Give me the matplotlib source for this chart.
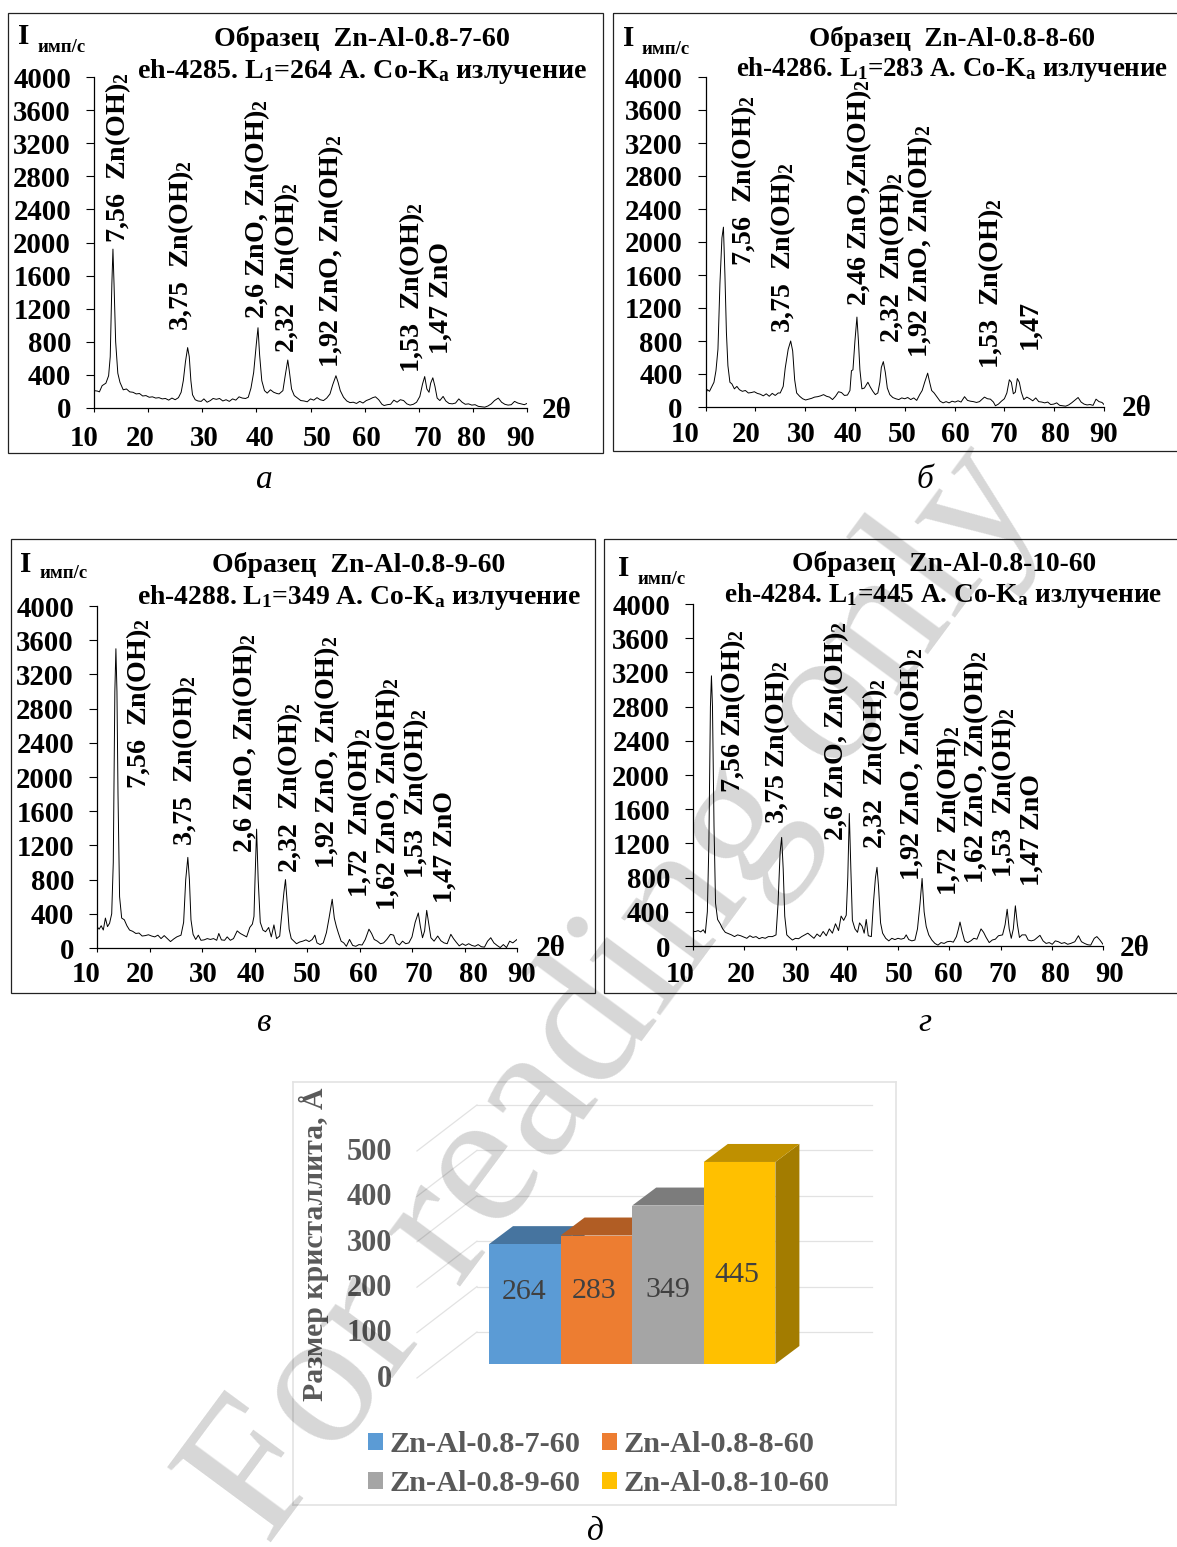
import numpy as np
import matplotlib
matplotlib.use("Agg")
import matplotlib.pyplot as plt
from matplotlib.patches import Polygon, Rectangle

plt.rcParams['font.family'] = ['Liberation Serif', 'DejaVu Serif']
plt.rcParams['font.weight'] = 'bold'
plt.rcParams['mathtext.fontset'] = 'custom'
plt.rcParams['mathtext.rm'] = 'Liberation Serif:bold'
plt.rcParams['mathtext.default'] = 'regular'

W, H = 1177, 1547

# (2theta, intensity)
spectrum_a = [(10,210),(10.6,205),(11,195),(11.5,270),(12.2,300),(12.7,390),(13,620),(13.3,1500),(13.5,1920),(13.7,1500),(14,800),(14.4,420),(14.8,310),(15.4,220),(16,230),(16.6,195),(17.2,190),(17.8,170),(18.4,175),(19,145),(19.6,150),(20.2,130),(20.8,135),(21.4,120),(22,125),(22.6,110),(23.2,115),(23.8,95),(24.4,120),(25,100),(25.6,125),(26.1,190),(26.5,330),(26.9,560),(27.3,730),(27.6,620),(27.9,330),(28.2,160),(28.7,100),(29.2,85),(29.8,80),(30.3,110),(30.9,70),(31.5,90),(32,115),(32.6,105),(33.2,115),(33.8,85),(34.4,100),(35,80),(35.6,110),(36.2,95),(36.8,135),(37.4,120),(38,115),(38.5,130),(39,240),(39.5,430),(40,780),(40.3,970),(40.6,640),(41,330),(41.5,210),(42,180),(42.6,220),(43.2,190),(43.8,175),(44.2,170),(44.9,210),(45.3,380),(45.8,580),(46.1,440),(46.5,230),(47,150),(47.6,120),(48.2,90),(48.8,85),(49.4,75),(50,110),(50.6,95),(51.2,125),(51.8,100),(52.4,90),(53,120),(53.6,170),(54.1,280),(54.7,390),(55.1,310),(55.5,210),(56.1,130),(56.7,85),(57.3,65),(57.9,70),(58.5,55),(59.1,80),(59.7,60),(60.3,90),(60.9,105),(61.5,125),(62,135),(62.6,100),(63.2,45),(63.6,30),(64.2,40),(64.8,45),(65.4,95),(66,70),(66.6,100),(67.2,90),(67.8,50),(68.4,35),(69,45),(69.6,70),(70.2,140),(70.7,290),(71.1,380),(71.5,230),(71.9,190),(72.2,300),(72.6,365),(73,260),(73.4,120),(73.9,90),(74.5,140),(75,85),(75.6,55),(76.2,50),(76.8,60),(77.4,110),(78,70),(78.6,45),(79.2,50),(79.8,35),(80.4,40),(81,20),(81.6,15),(82.2,10),(82.8,25),(83.4,50),(84,90),(84.7,120),(85.3,70),(85.9,45),(86.5,35),(87.1,40),(87.7,80),(88.3,60),(88.9,50),(89.5,40),(90,55)]

spectrum_b = [(10,160),(10.4,210),(10.8,190),(11.2,240),(11.7,300),(12.1,440),(12.5,700),(12.9,1500),(13.3,2050),(13.6,2180),(13.9,1600),(14.2,900),(14.5,500),(14.9,300),(15.3,280),(15.8,220),(16.3,250),(16.8,210),(17.4,190),(18,200),(18.6,170),(19.2,175),(19.8,185),(20.4,165),(21,155),(21.6,135),(22.2,160),(22.8,130),(23.4,165),(24,140),(24.6,170),(25,170),(25.6,250),(26,470),(26.6,700),(27.1,800),(27.5,680),(27.9,330),(28.3,170),(28.9,130),(29.5,100),(30.1,85),(30.7,95),(31.3,105),(31.9,120),(32.5,125),(33.1,135),(33.7,150),(34.3,130),(34.9,120),(35.5,90),(36.1,130),(36.7,185),(37.3,175),(37.9,140),(38.5,145),(39,200),(39.3,440),(39.6,450),(40,800),(40.4,1090),(40.7,800),(41,450),(41.4,220),(41.9,230),(42.6,300),(43.1,240),(43.6,190),(44.1,150),(44.6,170),(45,300),(45.3,480),(45.7,550),(46.1,420),(46.5,230),(47,150),(47.6,115),(48.2,100),(48.8,90),(49.4,110),(50,100),(50.6,115),(51.2,90),(51.8,110),(52.4,80),(53,150),(53.5,200),(54,300),(54.6,410),(55,300),(55.4,200),(55.9,170),(56.5,120),(57.1,70),(57.7,50),(58.3,65),(58.9,50),(59.5,70),(60.1,60),(60.7,75),(61.3,60),(62,125),(62.6,80),(63.2,70),(63.8,65),(64.4,55),(65,65),(66,120),(66.6,100),(67.2,95),(67.8,60),(68.2,15),(68.8,35),(69.4,70),(70,100),(70.5,170),(71,330),(71.4,300),(71.8,160),(72.2,180),(72.6,345),(73,300),(73.4,180),(73.9,90),(74.5,120),(75.1,100),(75.7,75),(76.3,110),(76.9,65),(77.5,60),(78.1,50),(78.7,60),(79.3,30),(79.9,35),(80.5,50),(81.1,20),(81.7,15),(82.3,10),(82.9,25),(83.5,50),(84.2,85),(84.8,115),(85.4,60),(86,35),(86.6,25),(87.2,30),(87.8,20),(88.4,95),(89,65),(89.6,55),(90,30)]

spectrum_c = [(10,250),(10.4,220),(10.8,260),(11.2,210),(11.6,350),(12,250),(12.4,290),(12.8,400),(13.1,1000),(13.4,3000),(13.6,3500),(13.8,3000),(14,1800),(14.3,600),(14.7,350),(15.2,330),(15.7,260),(16.2,210),(16.8,195),(17.4,170),(18,175),(18.6,140),(19.2,145),(19.8,155),(20.4,140),(21,130),(21.6,150),(22.2,110),(22.8,145),(23.4,110),(24,75),(24.6,105),(25.2,130),(26,150),(26.5,300),(26.9,800),(27.3,1060),(27.6,800),(27.9,330),(28.3,160),(28.8,100),(29.3,150),(29.8,90),(30.4,95),(31,110),(31.6,100),(32.2,110),(32.8,90),(33.2,170),(33.7,95),(34.3,90),(34.8,130),(35.4,90),(36,110),(36.7,200),(37.3,170),(37.9,150),(38.5,130),(39.1,240),(39.6,280),(39.9,370),(40.1,800),(40.4,1390),(40.7,800),(41.1,300),(41.6,210),(42.1,190),(42.7,240),(43.2,130),(43.7,270),(44.2,110),(44.8,140),(45.2,400),(45.6,650),(45.9,800),(46.2,550),(46.6,220),(47,110),(47.5,80),(48,50),(48.6,70),(49.2,80),(49.8,95),(50.4,75),(51,100),(51.5,150),(51.9,60),(52.5,40),(53.1,60),(53.7,180),(54.2,350),(54.8,570),(55.2,350),(55.6,250),(56,170),(56.5,80),(57,60),(57.5,20),(58.1,100),(58.7,30),(59.3,20),(59.9,40),(60.5,35),(61.1,100),(61.8,220),(62.3,170),(62.8,100),(63.4,80),(64,50),(64.6,60),(65.2,100),(65.9,160),(66.5,150),(67,60),(67.6,35),(68.2,80),(68.8,50),(69.4,60),(70,130),(70.6,300),(71.2,410),(71.6,250),(72,120),(72.4,200),(72.8,440),(73.2,280),(73.6,120),(74.2,80),(74.9,140),(75.5,85),(76.1,60),(76.7,50),(77.4,160),(77.9,110),(78.4,70),(79,25),(79.6,50),(80.2,30),(80.8,50),(81.4,30),(82,20),(82.6,40),(83.2,15),(83.8,10),(84.4,80),(85,120),(85.6,60),(86.2,30),(86.8,5),(87.4,40),(88,5),(88.6,80),(89.2,60),(89.6,80),(90,100)]

spectrum_d = [(10,170),(10.5,170),(11,180),(11.5,165),(12,190),(12.4,150),(12.8,400),(13.1,1200),(13.4,2800),(13.6,3160),(13.8,2800),(14.1,1400),(14.4,500),(14.8,310),(15.3,260),(15.8,200),(16.3,160),(16.9,145),(17.5,130),(18.1,110),(18.7,130),(19.3,120),(19.9,105),(20.5,90),(21.1,120),(21.7,100),(22.3,110),(22.9,85),(23.5,100),(24.1,90),(24.7,110),(25.5,110),(26.2,130),(26.6,500),(27,1100),(27.3,1270),(27.6,900),(27.9,350),(28.3,130),(28.8,100),(29.4,70),(30,90),(30.6,85),(31.2,110),(31.8,130),(32.4,150),(33,120),(33.6,90),(34.2,140),(34.8,110),(35.4,170),(36,120),(36.6,200),(37.2,150),(37.8,260),(38.4,180),(38.9,350),(39.4,300),(39.9,360),(40.2,800),(40.5,1550),(40.8,900),(41.1,300),(41.6,200),(42.1,160),(42.5,270),(43,230),(43.4,150),(43.8,310),(44.2,120),(44.8,110),(45.2,500),(45.6,800),(45.9,920),(46.2,700),(46.6,270),(47,150),(47.6,90),(48.2,60),(48.8,90),(49.4,75),(50,90),(50.6,80),(51.2,90),(51.6,130),(52.1,75),(52.7,60),(53.3,70),(53.8,200),(54.3,500),(54.7,790),(55.1,400),(55.5,230),(56,130),(56.6,70),(57.2,30),(57.8,10),(58.4,40),(59,30),(59.6,50),(60.2,55),(60.8,45),(61.4,110),(61.8,200),(62.1,280),(62.5,170),(63,60),(63.6,40),(64.2,60),(64.8,90),(65.4,80),(66.2,200),(66.7,160),(67.2,100),(67.8,40),(68.4,70),(69,80),(69.6,120),(70.4,130),(70.9,250),(71.3,430),(71.7,200),(72.1,90),(72.5,200),(72.9,470),(73.3,250),(73.7,100),(74.2,130),(74.9,130),(75.4,70),(76,60),(76.6,70),(77.2,100),(77.7,125),(78.3,60),(78.9,30),(79.5,40),(80.1,20),(80.7,60),(81.3,50),(81.9,30),(82.5,40),(83.1,20),(83.7,30),(84.5,50),(85.2,120),(85.8,50),(86.4,30),(87,15),(87.6,10),(88.3,90),(88.8,110),(89.4,70),(90,20)]

y_ticks = [0, 400, 800, 1200, 1600, 2000, 2400, 2800, 3200, 3600, 4000]
x_ticks = [10, 20, 30, 40, 50, 60, 70, 80, 90]

samples = ['Zn-Al-0.8-7-60', 'Zn-Al-0.8-8-60', 'Zn-Al-0.8-9-60', 'Zn-Al-0.8-10-60']
crystallite = [264, 283, 349, 445]
size_ticks = [0, 100, 200, 300, 400, 500]

OH = 'Zn(OH)$_2$'
labels_a = ['7,56  '+OH, '3,75  '+OH, '2,6 ZnO, '+OH, '2,32  '+OH, '1,92 ZnO, '+OH, '1,53  '+OH, '1,47 ZnO']
labels_b = ['7,56  '+OH, '3,75  '+OH, '2,46 ZnO,'+OH, '2,32  '+OH, '1,92 ZnO, '+OH, '1,53  '+OH, '1,47']
labels_c = ['7,56  '+OH, '3,75  '+OH, '2,6 ZnO, '+OH, '2,32  '+OH, '1,92 ZnO, '+OH, '1,72  '+OH, '1,62 ZnO, '+OH, '1,53  '+OH, '1,47 ZnO']
labels_d = ['7,56 '+OH, '3,75 '+OH, '2,6 ZnO, '+OH, '2,32  '+OH, '1,92 ZnO, '+OH, '1,72  '+OH, '1,62 ZnO, '+OH, '1,53  '+OH, '1,47 ZnO']

panels = [
    dict(data=spectrum_a, box=(8, 13, 603, 453), ax=(94, 527, 77, 408),
         t1='Образец  Zn-Al-0.8-7-60', t2='eh-4285. L$_1$=264 А. Co-K$_a$ излучение', fs1=20.2, fs2=20.2,
         t1xy=(362, 39), t2xy=(362, 71), I=(24, 37), imp=(37, 47), th=(557, 410),
         xl=[84, 140, 204, 260, 317, 366, 428, 471, 521], xly=439,
         labels=labels_a, lx=[118, 181, 257, 287, 331, 412, 441], ly=[243, 331, 319, 353, 368, 373, 354]),
    dict(data=spectrum_b, box=(613, 13, 1190, 451), ax=(705.5, 1104, 77, 407),
         t1='Образец  Zn-Al-0.8-8-60', t2='eh-4286. L$_1$=283 А. Co-K$_a$ излучение', fs1=19.5, fs2=19.4,
         t1xy=(952, 39), t2xy=(952, 70), I=(629, 39), imp=(641, 49), th=(1137, 408),
         xl=[685, 746, 801, 848, 902, 955, 1004, 1056, 1104], xly=434,
         labels=labels_b, lx=[744, 783, 859, 892, 920, 991, 1030], ly=[266, 333, 306, 343, 358, 369, 349]),
    dict(data=spectrum_c, box=(11, 539, 595, 993), ax=(97, 517, 606, 948),
         t1='Образец  Zn-Al-0.8-9-60', t2='eh-4288. L$_1$=349 А. Co-K$_a$ излучение', fs1=20, fs2=19.9,
         t1xy=(359, 565), t2xy=(359, 598), I=(26, 564), imp=(39, 574), th=(551, 949),
         xl=[86, 140, 203, 251, 307, 363, 419, 474, 522], xly=975,
         labels=labels_c, lx=[139, 185, 245, 290, 327, 360, 388, 416, 445], ly=[789, 846, 853, 873, 869, 898, 911, 879, 903]),
    dict(data=spectrum_d, box=(604, 539, 1190, 993), ax=(693, 1103, 604, 946),
         t1='Образец  Zn-Al-0.8-10-60', t2='eh-4284. L$_1$=445 А. Co-K$_a$ излучение', fs1=19.8, fs2=19.6,
         t1xy=(944, 564), t2xy=(943, 596), I=(624, 569), imp=(637, 579), th=(1135, 948),
         xl=[680, 741, 796, 844, 899, 948, 1003, 1056, 1110], xly=974,
         labels=labels_d, lx=[733, 777, 836, 875, 912, 949, 976, 1004, 1032], ly=[793, 824, 841, 849, 881, 896, 884, 878, 886]),
]

fig = plt.figure(figsize=(W / 100, H / 100), dpi=100, facecolor='white')
over = fig.add_axes([0, 0, 1, 1], zorder=5)
over.set_xlim(0, W)
over.set_ylim(H, 0)
over.axis('off')


def px_axes(l, r, t, b, **kw):
    return fig.add_axes([l / W, 1 - b / H, (r - l) / W, (b - t) / H], **kw)


for p in panels:
    l, t, r, b = p['box']
    over.add_patch(Rectangle((l, t), r - l, b - t, fill=False, ec='#222222', lw=0.9))
    al, ar, at, ab = p['ax']
    ax = px_axes(al, ar, at, ab)
    ax.patch.set_alpha(0)
    xs, ys = zip(*p['data'])
    ax.plot(xs, ys, color='black', lw=0.7)
    ax.set_xlim(10, 90)
    ax.set_ylim(0, 4000)
    ax.spines[['top', 'right']].set_visible(False)
    ax.spines[['left', 'bottom']].set_linewidth(0.9)
    ax.set_xticks(x_ticks)
    ax.set_xticklabels([])
    ax.set_yticks(y_ticks)
    ax.tick_params(axis='x', length=3, width=0.8)
    ax.tick_params(axis='y', length=5.5, width=0.8, pad=11, labelsize=20.7)
    for lab in ax.get_yticklabels():
        lab.set_verticalalignment('center_baseline')
    over.text(*p['t1xy'], p['t1'], ha='center', va='center', fontsize=p['fs1'])
    over.text(*p['t2xy'], p['t2'], ha='center', va='center', fontsize=p['fs2'])
    over.text(*p['I'], 'I', ha='center', va='center', fontsize=21)
    over.text(*p['imp'], 'имп/с', ha='left', va='center', fontsize=13.5)
    over.text(*p['th'], '2θ', ha='center', va='center', fontsize=21)
    for x, lab in zip(p['xl'], x_ticks):
        over.text(x, p['xly'], str(lab), ha='center', va='center', fontsize=20.7)
    for x, y, lab in zip(p['lx'], p['ly'], p['labels']):
        over.text(x, y, lab, rotation=90, ha='center', va='bottom', fontsize=20.2)

# captions under the panels
for x, y, s in [(264, 480, 'а'), (925, 480, 'б'), (264, 1023, 'в'), (925, 1023, 'г'), (595, 1532, 'д')]:
    over.text(x, y, s, ha='center', va='center', fontsize=24, style='italic', weight='normal')

# pseudo 3D bar chart, y axis is crystallite size, x axis is the bar index
PX_X, PX_Y = 71.6, 0.454
bar_l, bar_b = 489, 1364
axb = px_axes(293, 896, 1082, 1505)
axb.set_xlim(-0.5 - (bar_l - 293) / PX_X, -0.5 + (896 - bar_l) / PX_X)
axb.set_ylim(-(1505 - bar_b) / PX_Y, (bar_b - 1082) / PX_Y)
axb.set_xticks([])
axb.set_yticks([])
for s in axb.spines.values():
    s.set_color('#e3e3e3')
    s.set_linewidth(1.2)

front_c = ['#5B9BD5', '#ED7D31', '#A5A5A5', '#FFC000']
top_c = ['#46749F', '#B15D24', '#7C7C7C', '#BF9000']
side_c = ['#3E6A94', '#A3561F', '#707070', '#A37C00']
dx, dy = 24 / PX_X, 18 / PX_Y
back_dx, back_dy = -0.168, 70.5
floor_dx, floor_dy = -1.006, -30.8

for v in size_ticks:
    axb.plot([floor_dx - 0.5, back_dx - 0.5], [v + floor_dy, v + back_dy], color='#e2e2e2', lw=0.9)
    axb.plot([back_dx - 0.5, 4.85], [v + back_dy, v + back_dy], color='#e2e2e2', lw=0.9)
    axb.text(-1.855, v + floor_dy - 3, str(v), ha='right', va='center', fontsize=22, color='#595959')

handles = []
for i, v in enumerate(crystallite):
    x0, x1 = i - 0.5, i + 0.5
    axb.add_patch(Polygon([(x1, 0), (x1 + dx, dy), (x1 + dx, v + dy), (x1, v)], fc=side_c[i], ec='none', zorder=3 + i))
    axb.add_patch(Polygon([(x0, v), (x0 + dx, v + dy), (x1 + dx, v + dy), (x1, v)], fc=top_c[i], ec='none', zorder=3 + i))
    bars = axb.bar(i, v, width=1, color=front_c[i], zorder=3 + i, label=samples[i])
    handles.append(bars[0])

for x, y, v in [(524, 1292, 264), (594, 1291, 283), (668, 1290, 349), (737, 1275, 445)]:
    over.text(x, y, str(v), ha='center', va='center', fontsize=21.5, color='#404040', weight='normal')

over.text(314, 1244, 'Размер кристаллита, Å', rotation=90, ha='center', va='center', fontsize=21.4, color='#595959')

order = [0, 2, 1, 3]
leg = axb.legend([handles[i] for i in order], [samples[i] for i in order], ncol=2, frameon=False,
                 loc='upper left', bbox_to_anchor=((368 - 293) / 603, (1505 - 1431) / 423),
                 fontsize=21.8, labelcolor='#595959', handlelength=0.5, handleheight=0.5,
                 handletextpad=0.22, columnspacing=0.7, labelspacing=0.4, borderpad=0, borderaxespad=0)

# watermark across the page
over.text(268, 1548, 'For reading only', rotation=53.5, rotation_mode='anchor', ha='left', va='baseline',
          fontsize=141, color='black', alpha=0.16, weight='normal', clip_on=True, zorder=20)

fig.savefig('out.png', dpi=100)
